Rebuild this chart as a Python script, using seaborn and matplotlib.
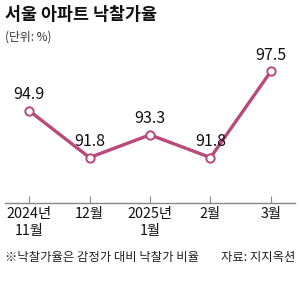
import matplotlib
matplotlib.use("Agg")
import matplotlib.pyplot as plt
import seaborn as sns
import pandas as pd

months = ["2024년\n11월", "12월", "2025년\n1월", "2월", "3월"]
rates = [94.9, 91.8, 93.3, 91.8, 97.5]

sns.set_theme(style="white")
plt.rcParams['font.family'] = ['Noto Sans CJK KR', 'DejaVu Sans']

color = "#b9497a"
fig = plt.figure(figsize=(3.0, 2.93), dpi=100)
ax = fig.add_axes([5/300, 1-203/293, 290/300, 153/293])

df = pd.DataFrame({"x": range(len(months)), "y": rates})
sns.lineplot(data=df, x="x", y="y", ax=ax, color=color, linewidth=2.4,
             marker="o", markersize=6, markerfacecolor="white",
             markeredgecolor=color, markeredgewidth=1.4)

for i, v in enumerate(rates):
    ax.annotate(f"{v}", (i, v), xytext=(0, 11.5), textcoords="offset points",
                ha="center", va="center", fontsize=11.5, color="#111111")

ax.set_xlim(-0.397, 4.397)
ax.set_ylim(88.8, 98.9)
ax.set_xticks(range(len(months)))
ax.set_xticklabels(months, fontsize=10.3, color="#111111", linespacing=1.3)
ax.set_yticks([])
ax.set_xlabel("")
ax.set_ylabel("")
for s in ["top", "right", "left"]:
    ax.spines[s].set_visible(False)
ax.spines["bottom"].set_color("#888888")
ax.spines["bottom"].set_linewidth(1.0)
ax.tick_params(axis="x", direction="in", length=5, width=0.8, color="#888888",
               pad=3, bottom=True)
ax.set_facecolor("none")

fig.text(5/300, 1-15/293, "서울 아파트 낙찰가율", fontsize=12.5, fontweight="bold",
         ha="left", va="center", color="#111111")
fig.text(5/300, 1-37/293, "(단위: %)", fontsize=8.5, ha="left", va="center", color="#333333")
fig.text(5/300, 1-258/293, "※낙찰가율은 감정가 대비 낙찰가 비율", fontsize=8.9,
         ha="left", va="center", color="#222222")
fig.text(295/300, 1-258/293, "자료: 지지옥션", fontsize=8.9, ha="right", va="center",
         color="#222222")

fig.savefig("out.png", dpi=100)
